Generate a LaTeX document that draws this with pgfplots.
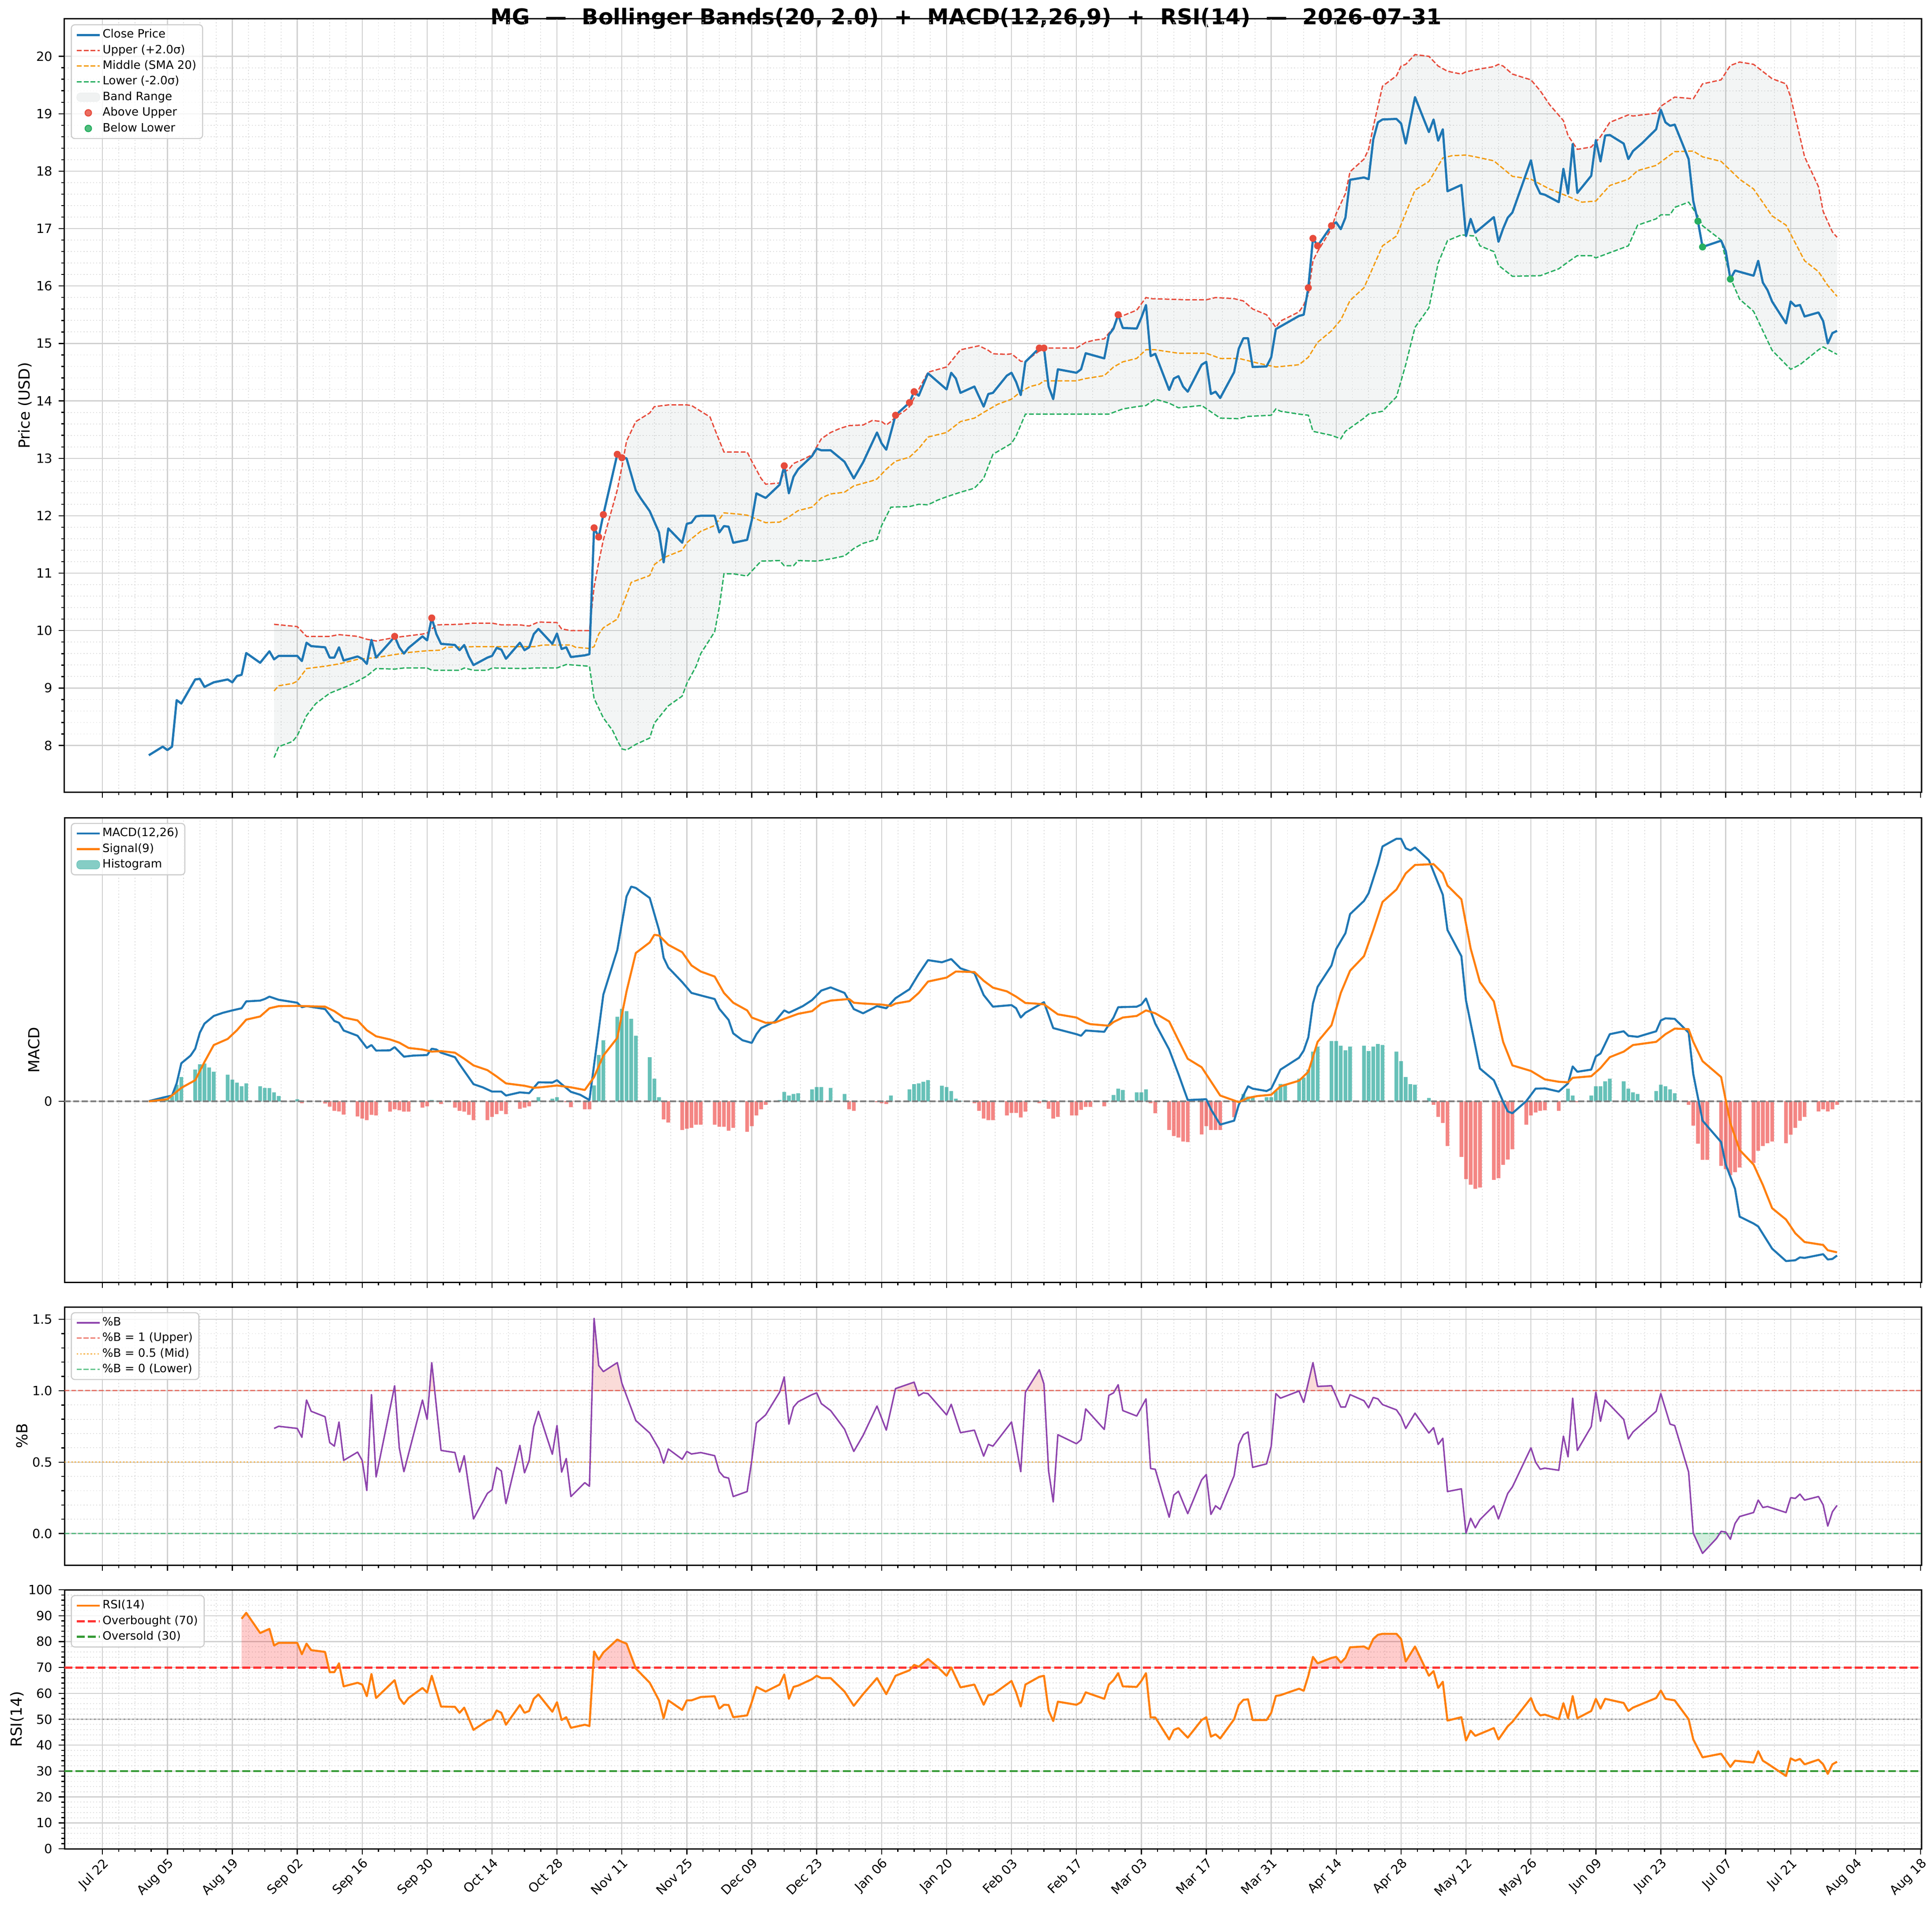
\documentclass[border=0pt]{standalone}
\usepackage{fontspec}
\setmainfont{DejaVu Sans}
\usepackage{pgfplots}
\usepackage{pgfplotstable}
\pgfplotsset{compat=1.18}
\pgfplotsset{
  legend image code/.code={\draw[mark repeat=2,mark phase=2,#1] plot coordinates {(0pt,0pt) (6.5pt,0pt) (13pt,0pt)};},
  area legend/.style={legend image code/.code={\draw[##1] (0pt,-2.4pt) rectangle (13pt,2.4pt);}},
}

\definecolor{cclose}{RGB}{31,119,180}
\definecolor{cup}{RGB}{231,76,60}
\definecolor{cmid}{RGB}{243,156,18}
\definecolor{clo}{RGB}{39,174,96}
\definecolor{cband}{RGB}{149,165,166}
\definecolor{cbandlt}{RGB}{236,239,239}
\definecolor{cmacd}{RGB}{31,119,180}
\definecolor{csig}{RGB}{255,127,14}
\definecolor{cpos}{RGB}{38,166,154}
\definecolor{cposlt}{RGB}{103,193,184}
\definecolor{cneg}{RGB}{239,83,80}
\definecolor{cpb}{RGB}{142,68,173}
\definecolor{crsi}{RGB}{255,127,14}
\definecolor{gridmaj}{RGB}{208,208,208}
\definecolor{gridmin}{RGB}{222,222,222}
\definecolor{legframe}{RGB}{204,204,204}

% ---------------- data ----------------
\pgfplotstableread[row sep=\\]{x y\\10 7.83\\13 7.98\\14 7.92\\15 7.98\\16 8.79\\17 8.73\\20 9.15\\21 9.16\\22 9.02\\24 9.10\\27 9.15\\28 9.10\\29 9.21\\30 9.23\\31 9.61\\34 9.44\\36 9.64\\37 9.50\\38 9.56\\41 9.56\\42 9.56\\43 9.47\\44 9.79\\45 9.73\\48 9.71\\49 9.53\\50 9.53\\51 9.71\\52 9.48\\55 9.55\\56 9.51\\57 9.42\\58 9.84\\59 9.53\\62 9.80\\63 9.90\\64 9.71\\65 9.60\\66 9.70\\69 9.90\\70 9.83\\71 10.22\\72 9.94\\73 9.77\\76 9.75\\77 9.66\\78 9.75\\79 9.55\\80 9.40\\83 9.53\\84 9.56\\85 9.70\\86 9.67\\87 9.51\\90 9.79\\91 9.66\\92 9.71\\93 9.94\\94 10.03\\97 9.77\\98 9.95\\99 9.68\\100 9.71\\101 9.54\\104 9.57\\105 9.59\\106 11.79\\107 11.63\\108 12.02\\111 13.07\\112 13.01\\113 13.00\\115 12.44\\116 12.31\\118 12.08\\120 11.71\\121 11.19\\122 11.78\\125 11.53\\126 11.86\\127 11.88\\128 11.99\\129 12.00\\132 12.00\\133 11.71\\134 11.82\\135 11.81\\136 11.53\\139 11.58\\140 11.92\\141 12.39\\143 12.31\\146 12.54\\147 12.87\\148 12.39\\149 12.68\\150 12.81\\153 13.04\\154 13.17\\155 13.14\\157 13.14\\160 12.94\\162 12.65\\164 12.93\\167 13.45\\168 13.26\\169 13.15\\171 13.75\\174 13.97\\175 14.16\\176 14.09\\178 14.48\\182 14.20\\183 14.49\\184 14.39\\185 14.14\\188 14.25\\190 13.90\\191 14.12\\192 14.14\\195 14.44\\196 14.49\\197 14.33\\198 14.10\\199 14.68\\202 14.92\\203 14.92\\204 14.25\\205 14.03\\206 14.55\\210 14.49\\211 14.55\\212 14.83\\216 14.74\\217 15.15\\218 15.26\\219 15.50\\220 15.27\\223 15.26\\224 15.45\\225 15.67\\226 14.78\\227 14.82\\230 14.19\\231 14.39\\232 14.43\\233 14.25\\234 14.16\\237 14.63\\238 14.68\\239 14.12\\240 14.16\\241 14.05\\244 14.50\\245 14.91\\246 15.09\\247 15.09\\248 14.59\\251 14.60\\252 14.76\\253 15.25\\258 15.48\\259 15.50\\260 15.97\\261 16.83\\262 16.70\\265 17.05\\266 17.11\\267 16.99\\268 17.19\\269 17.85\\272 17.89\\273 17.86\\274 18.55\\275 18.85\\276 18.90\\279 18.91\\280 18.83\\281 18.48\\283 19.29\\286 18.68\\287 18.90\\288 18.53\\289 18.73\\290 17.65\\293 17.76\\294 16.87\\295 17.17\\296 16.93\\300 17.20\\301 16.77\\302 17.00\\303 17.19\\304 17.28\\308 18.19\\309 17.78\\310 17.61\\311 17.59\\314 17.46\\315 18.04\\316 17.61\\317 18.47\\318 17.62\\321 17.92\\322 18.54\\323 18.17\\324 18.62\\325 18.63\\328 18.48\\329 18.21\\330 18.35\\332 18.49\\335 18.73\\336 19.07\\337 18.85\\338 18.79\\339 18.81\\342 18.21\\343 17.48\\344 17.13\\345 16.68\\349 16.79\\350 16.61\\351 16.12\\352 16.27\\356 16.18\\357 16.44\\358 16.06\\359 15.93\\360 15.73\\363 15.35\\364 15.73\\365 15.65\\366 15.67\\367 15.47\\370 15.54\\371 15.39\\372 15.00\\373 15.18\\374 15.22\\}\tclose

\pgfplotstableread[row sep=\\]{x y\\37 10.11\\42 10.07\\44 9.90\\49 9.90\\51 9.93\\55 9.90\\57 9.85\\59 9.82\\63 9.88\\65 9.90\\69 9.94\\70 9.96\\72 10.10\\77 10.11\\80 10.13\\84 10.13\\86 10.10\\90 10.10\\92 10.08\\94 10.15\\98 10.14\\99 10.03\\101 10.00\\105 10.00\\106 10.76\\107 11.19\\108 11.58\\111 12.45\\112 12.85\\113 13.30\\115 13.64\\118 13.79\\119 13.90\\122 13.93\\126 13.93\\127 13.92\\129 13.82\\131 13.72\\132 13.51\\134 13.11\\139 13.11\\140 12.95\\142 12.65\\143 12.55\\146 12.57\\147 12.76\\148 12.81\\149 12.91\\151 12.98\\153 13.06\\155 13.34\\157 13.45\\159 13.52\\161 13.57\\164 13.58\\166 13.66\\168 13.64\\169 13.58\\170 13.64\\171 13.72\\173 13.83\\174 13.90\\176 14.20\\178 14.50\\182 14.59\\185 14.89\\189 14.96\\191 14.88\\192 14.82\\195 14.81\\196 14.82\\198 14.69\\199 14.69\\202 14.87\\204 14.92\\210 14.92\\212 15.02\\214 15.06\\216 15.08\\218 15.28\\219 15.45\\223 15.58\\225 15.80\\226 15.78\\234 15.76\\238 15.76\\240 15.80\\244 15.78\\246 15.74\\248 15.60\\251 15.50\\253 15.28\\254 15.39\\258 15.55\\259 15.67\\260 15.85\\261 16.44\\262 16.60\\265 17.00\\266 17.26\\268 17.61\\269 17.99\\272 18.21\\273 18.38\\274 18.77\\276 19.48\\279 19.66\\280 19.83\\281 19.86\\283 20.03\\286 20.00\\288 19.83\\290 19.74\\293 19.69\\294 19.73\\297 19.78\\300 19.82\\301 19.86\\302 19.83\\304 19.69\\308 19.59\\310 19.40\\312 19.16\\315 18.88\\316 18.62\\318 18.38\\321 18.42\\323 18.60\\325 18.85\\329 18.98\\330 18.96\\335 19.01\\336 19.13\\339 19.29\\343 19.26\\345 19.52\\349 19.59\\351 19.84\\353 19.90\\356 19.86\\360 19.61\\363 19.52\\364 19.29\\367 18.25\\370 17.73\\371 17.30\\373 16.94\\374 16.85\\}\tupper

\pgfplotstableread[row sep=\\]{x y\\37 8.95\\38 9.04\\41 9.08\\42 9.12\\44 9.34\\48 9.38\\51 9.42\\55 9.50\\59 9.53\\62 9.57\\66 9.62\\70 9.65\\73 9.66\\74 9.71\\80 9.72\\87 9.72\\93 9.72\\95 9.75\\101 9.75\\102 9.71\\105 9.69\\106 9.72\\107 9.94\\108 10.05\\111 10.20\\112 10.41\\114 10.84\\118 10.96\\119 11.15\\121 11.27\\125 11.40\\126 11.53\\127 11.60\\129 11.73\\132 11.83\\134 12.05\\137 12.03\\139 12.01\\142 11.91\\143 11.88\\146 11.89\\148 11.98\\150 12.09\\153 12.15\\155 12.31\\157 12.38\\160 12.41\\162 12.52\\166 12.61\\167 12.64\\169 12.81\\171 12.95\\174 13.02\\176 13.17\\178 13.37\\182 13.45\\185 13.64\\188 13.70\\190 13.80\\193 13.94\\196 14.03\\198 14.16\\200 14.25\\202 14.29\\203 14.35\\210 14.35\\212 14.39\\216 14.44\\218 14.59\\220 14.68\\223 14.74\\225 14.89\\227 14.89\\232 14.83\\238 14.83\\241 14.74\\245 14.74\\249 14.66\\253 14.59\\258 14.63\\260 14.76\\262 15.02\\265 15.22\\267 15.41\\269 15.75\\272 15.97\\276 16.70\\279 16.87\\283 17.67\\286 17.82\\289 18.23\\291 18.27\\294 18.28\\296 18.25\\300 18.18\\304 17.91\\308 17.86\\312 17.69\\316 17.56\\319 17.46\\322 17.48\\325 17.75\\329 17.86\\331 18.01\\335 18.10\\339 18.34\\343 18.35\\345 18.25\\349 18.17\\353 17.86\\356 17.69\\360 17.22\\363 17.06\\367 16.44\\370 16.25\\372 16.01\\374 15.82\\}\tmid

\pgfplotstableread[row sep=\\]{x y\\37 7.79\\38 7.98\\41 8.07\\42 8.17\\44 8.52\\46 8.73\\49 8.91\\53 9.04\\55 9.12\\57 9.21\\59 9.34\\63 9.33\\65 9.35\\70 9.35\\71 9.31\\77 9.31\\78 9.35\\80 9.31\\83 9.31\\84 9.35\\91 9.34\\93 9.35\\98 9.35\\100 9.41\\105 9.38\\106 8.82\\108 8.48\\110 8.26\\111 8.09\\112 7.94\\113 7.92\\115 8.02\\118 8.13\\119 8.39\\122 8.69\\125 8.86\\126 9.08\\128 9.38\\129 9.60\\132 9.98\\133 10.41\\134 10.99\\136 10.99\\139 10.95\\142 11.21\\146 11.22\\147 11.13\\149 11.13\\150 11.22\\154 11.21\\157 11.25\\160 11.30\\162 11.43\\164 11.52\\167 11.59\\168 11.83\\170 12.15\\174 12.16\\176 12.20\\178 12.19\\180 12.27\\182 12.33\\185 12.41\\188 12.48\\190 12.65\\192 13.07\\196 13.26\\197 13.39\\199 13.77\\217 13.77\\220 13.86\\223 13.90\\225 13.92\\227 14.03\\230 13.96\\232 13.88\\237 13.92\\241 13.70\\245 13.69\\247 13.73\\252 13.75\\253 13.86\\254 13.82\\258 13.77\\260 13.75\\261 13.47\\265 13.40\\267 13.34\\268 13.47\\272 13.70\\273 13.77\\276 13.82\\279 14.07\\281 14.63\\283 15.28\\286 15.62\\288 16.40\\290 16.79\\293 16.89\\296 16.87\\297 16.70\\300 16.60\\301 16.36\\304 16.17\\310 16.18\\314 16.30\\316 16.42\\318 16.53\\321 16.53\\322 16.49\\324 16.55\\329 16.70\\331 17.06\\335 17.17\\336 17.24\\338 17.24\\339 17.37\\342 17.46\\344 17.22\\345 17.05\\349 16.80\\351 16.14\\353 15.77\\356 15.56\\360 14.88\\364 14.55\\366 14.63\\370 14.89\\371 14.94\\374 14.81\\}\tlow

% band polygon: upper band forward, lower band backward
\pgfplotstableread[row sep=\\]{x y\\37 10.11\\42 10.07\\44 9.90\\49 9.90\\51 9.93\\55 9.90\\57 9.85\\59 9.82\\63 9.88\\65 9.90\\69 9.94\\70 9.96\\72 10.10\\77 10.11\\80 10.13\\84 10.13\\86 10.10\\90 10.10\\92 10.08\\94 10.15\\98 10.14\\99 10.03\\101 10.00\\105 10.00\\106 10.76\\107 11.19\\108 11.58\\111 12.45\\112 12.85\\113 13.30\\115 13.64\\118 13.79\\119 13.90\\122 13.93\\126 13.93\\127 13.92\\129 13.82\\131 13.72\\132 13.51\\134 13.11\\139 13.11\\140 12.95\\142 12.65\\143 12.55\\146 12.57\\147 12.76\\148 12.81\\149 12.91\\151 12.98\\153 13.06\\155 13.34\\157 13.45\\159 13.52\\161 13.57\\164 13.58\\166 13.66\\168 13.64\\169 13.58\\170 13.64\\171 13.72\\173 13.83\\174 13.90\\176 14.20\\178 14.50\\182 14.59\\185 14.89\\189 14.96\\191 14.88\\192 14.82\\195 14.81\\196 14.82\\198 14.69\\199 14.69\\202 14.87\\204 14.92\\210 14.92\\212 15.02\\214 15.06\\216 15.08\\218 15.28\\219 15.45\\223 15.58\\225 15.80\\226 15.78\\234 15.76\\238 15.76\\240 15.80\\244 15.78\\246 15.74\\248 15.60\\251 15.50\\253 15.28\\254 15.39\\258 15.55\\259 15.67\\260 15.85\\261 16.44\\262 16.60\\265 17.00\\266 17.26\\268 17.61\\269 17.99\\272 18.21\\273 18.38\\274 18.77\\276 19.48\\279 19.66\\280 19.83\\281 19.86\\283 20.03\\286 20.00\\288 19.83\\290 19.74\\293 19.69\\294 19.73\\297 19.78\\300 19.82\\301 19.86\\302 19.83\\304 19.69\\308 19.59\\310 19.40\\312 19.16\\315 18.88\\316 18.62\\318 18.38\\321 18.42\\323 18.60\\325 18.85\\329 18.98\\330 18.96\\335 19.01\\336 19.13\\339 19.29\\343 19.26\\345 19.52\\349 19.59\\351 19.84\\353 19.90\\356 19.86\\360 19.61\\363 19.52\\364 19.29\\367 18.25\\370 17.73\\371 17.30\\373 16.94\\374 16.85\\374 14.81\\371 14.94\\370 14.89\\366 14.63\\364 14.55\\360 14.88\\356 15.56\\353 15.77\\351 16.14\\349 16.80\\345 17.05\\344 17.22\\342 17.46\\339 17.37\\338 17.24\\336 17.24\\335 17.17\\331 17.06\\329 16.70\\324 16.55\\322 16.49\\321 16.53\\318 16.53\\316 16.42\\314 16.30\\310 16.18\\304 16.17\\301 16.36\\300 16.60\\297 16.70\\296 16.87\\293 16.89\\290 16.79\\288 16.40\\286 15.62\\283 15.28\\281 14.63\\279 14.07\\276 13.82\\273 13.77\\272 13.70\\268 13.47\\267 13.34\\265 13.40\\261 13.47\\260 13.75\\258 13.77\\254 13.82\\253 13.86\\252 13.75\\247 13.73\\245 13.69\\241 13.70\\237 13.92\\232 13.88\\230 13.96\\227 14.03\\225 13.92\\223 13.90\\220 13.86\\217 13.77\\199 13.77\\197 13.39\\196 13.26\\192 13.07\\190 12.65\\188 12.48\\185 12.41\\182 12.33\\180 12.27\\178 12.19\\176 12.20\\174 12.16\\170 12.15\\168 11.83\\167 11.59\\164 11.52\\162 11.43\\160 11.30\\157 11.25\\154 11.21\\150 11.22\\149 11.13\\147 11.13\\146 11.22\\142 11.21\\139 10.95\\136 10.99\\134 10.99\\133 10.41\\132 9.98\\129 9.60\\128 9.38\\126 9.08\\125 8.86\\122 8.69\\119 8.39\\118 8.13\\115 8.02\\113 7.92\\112 7.94\\111 8.09\\110 8.26\\108 8.48\\106 8.82\\105 9.38\\100 9.41\\98 9.35\\93 9.35\\91 9.34\\84 9.35\\83 9.31\\80 9.31\\78 9.35\\77 9.31\\71 9.31\\70 9.35\\65 9.35\\63 9.33\\59 9.34\\57 9.21\\55 9.12\\53 9.04\\49 8.91\\46 8.73\\44 8.52\\42 8.17\\41 8.07\\38 7.98\\37 7.79\\}\tband

\pgfplotstableread[row sep=\\]{x y\\10 0.001\\13 0.014\\15 0.022\\16 0.068\\17 0.144\\19 0.173\\20 0.199\\21 0.260\\22 0.294\\24 0.323\\26 0.335\\28 0.344\\30 0.352\\31 0.378\\34 0.381\\35 0.387\\36 0.396\\38 0.384\\42 0.373\\43 0.356\\44 0.360\\48 0.349\\50 0.304\\51 0.297\\52 0.268\\55 0.248\\57 0.202\\58 0.213\\59 0.192\\62 0.193\\63 0.205\\65 0.169\\67 0.173\\70 0.175\\71 0.199\\72 0.196\\73 0.184\\76 0.167\\77 0.140\\78 0.115\\80 0.065\\82 0.053\\84 0.037\\86 0.037\\87 0.022\\90 0.034\\92 0.031\\94 0.072\\97 0.071\\98 0.080\\99 0.065\\101 0.036\\103 0.025\\105 0.005\\108 0.404\\111 0.572\\113 0.775\\114 0.812\\115 0.807\\118 0.769\\120 0.648\\121 0.543\\122 0.506\\125 0.451\\127 0.410\\130 0.396\\132 0.387\\133 0.350\\135 0.308\\136 0.257\\138 0.231\\140 0.221\\141 0.254\\142 0.277\\145 0.302\\147 0.344\\148 0.335\\151 0.360\\153 0.383\\155 0.419\\157 0.431\\160 0.410\\162 0.349\\164 0.333\\167 0.360\\169 0.352\\171 0.390\\174 0.424\\176 0.482\\178 0.534\\181 0.526\\183 0.538\\185 0.503\\188 0.485\\190 0.402\\192 0.358\\196 0.364\\197 0.352\\198 0.317\\199 0.335\\203 0.375\\205 0.277\\210 0.254\\211 0.248\\212 0.268\\216 0.263\\218 0.317\\219 0.356\\223 0.358\\224 0.366\\225 0.389\\227 0.294\\230 0.196\\232 0.103\\234 0.005\\238 0.008\\239 -0.030\\241 -0.088\\244 -0.073\\245 -0.013\\247 0.057\\248 0.048\\251 0.039\\252 0.048\\254 0.120\\258 0.165\\259 0.192\\260 0.242\\261 0.370\\262 0.433\\265 0.514\\266 0.576\\268 0.636\\269 0.708\\272 0.758\\273 0.787\\275 0.897\\276 0.964\\279 0.993\\280 0.993\\281 0.957\\282 0.949\\283 0.960\\286 0.912\\287 0.868\\289 0.781\\290 0.648\\293 0.549\\294 0.381\\297 0.124\\300 0.080\\302 -0.001\\303 -0.038\\304 -0.045\\307 0.001\\309 0.048\\311 0.049\\314 0.037\\316 0.068\\317 0.132\\318 0.112\\321 0.120\\322 0.170\\323 0.181\\325 0.254\\328 0.265\\329 0.248\\331 0.244\\335 0.265\\336 0.306\\337 0.314\\339 0.312\\342 0.260\\343 0.103\\345 -0.073\\349 -0.154\\350 -0.239\\352 -0.331\\353 -0.436\\356 -0.462\\357 -0.473\\360 -0.557\\363 -0.604\\365 -0.601\\366 -0.590\\367 -0.592\\371 -0.578\\372 -0.598\\373 -0.596\\374 -0.583\\}\tmacd

\pgfplotstableread[row sep=\\]{x y\\10 0\\14 0.008\\17 0.051\\20 0.080\\22 0.149\\24 0.213\\27 0.236\\29 0.269\\31 0.309\\34 0.321\\36 0.352\\38 0.360\\42 0.361\\48 0.358\\50 0.341\\52 0.317\\55 0.306\\57 0.269\\59 0.246\\62 0.234\\64 0.222\\66 0.202\\69 0.196\\71 0.188\\73 0.190\\76 0.184\\78 0.161\\80 0.136\\83 0.118\\85 0.094\\87 0.068\\91 0.059\\93 0.051\\95 0.054\\98 0.060\\101 0.053\\104 0.043\\106 0.092\\108 0.173\\111 0.240\\113 0.416\\115 0.561\\118 0.601\\119 0.630\\120 0.627\\122 0.592\\125 0.564\\127 0.514\\129 0.491\\132 0.472\\134 0.410\\136 0.373\\139 0.344\\140 0.317\\143 0.297\\145 0.298\\147 0.312\\150 0.331\\153 0.341\\155 0.370\\157 0.381\\161 0.387\\162 0.373\\164 0.370\\168 0.366\\170 0.361\\171 0.370\\174 0.379\\176 0.410\\178 0.453\\182 0.468\\184 0.491\\188 0.489\\190 0.456\\192 0.430\\195 0.416\\197 0.396\\199 0.372\\201 0.370\\203 0.367\\206 0.329\\210 0.317\\212 0.298\\213 0.292\\217 0.286\\218 0.300\\220 0.317\\223 0.323\\225 0.344\\227 0.333\\230 0.302\\232 0.231\\234 0.161\\237 0.129\\241 0.022\\245 -0.003\\247 0.013\\249 0.020\\252 0.025\\254 0.057\\258 0.078\\260 0.112\\262 0.225\\265 0.288\\267 0.410\\269 0.494\\272 0.549\\274 0.648\\276 0.754\\279 0.801\\281 0.862\\283 0.894\\287 0.897\\289 0.862\\290 0.816\\293 0.764\\295 0.578\\297 0.451\\300 0.378\\302 0.225\\304 0.136\\308 0.115\\311 0.083\\314 0.074\\316 0.072\\317 0.089\\321 0.095\\323 0.126\\325 0.167\\328 0.188\\330 0.213\\335 0.225\\337 0.254\\339 0.275\\342 0.273\\343 0.225\\345 0.152\\349 0.092\\351 -0.082\\353 -0.184\\356 -0.239\\358 -0.316\\360 -0.404\\363 -0.447\\365 -0.499\\367 -0.532\\371 -0.543\\372 -0.563\\374 -0.571\\}\tsig

\pgfplotstableread[row sep=\\]{x y\\13 0.003\\14 0.008\\15 0.020\\16 0.063\\17 0.092\\20 0.120\\21 0.140\\22 0.143\\23 0.128\\24 0.112\\27 0.101\\28 0.082\\29 0.071\\30 0.057\\31 0.068\\34 0.057\\35 0.051\\36 0.050\\37 0.034\\38 0.020\\41 0.003\\42 0.008\\71 0.005\\72 0.001\\94 0.016\\97 0.010\\98 0.016\\106 0.060\\107 0.175\\108 0.231\\111 0.320\\112 0.350\\113 0.341\\114 0.312\\115 0.248\\118 0.167\\119 0.086\\120 0.016\\146 0.005\\147 0.036\\148 0.022\\149 0.028\\150 0.031\\153 0.045\\154 0.054\\155 0.054\\157 0.051\\160 0.028\\170 0.022\\174 0.045\\175 0.065\\176 0.068\\177 0.074\\178 0.080\\181 0.059\\182 0.054\\183 0.039\\184 0.010\\185 0.002\\203 0.005\\217 0.002\\218 0.024\\219 0.048\\220 0.043\\223 0.034\\224 0.034\\225 0.045\\245 0.002\\246 0.028\\247 0.018\\248 0.018\\251 0.016\\252 0.016\\253 0.040\\254 0.066\\255 0.066\\258 0.086\\259 0.090\\260 0.120\\261 0.188\\262 0.207\\265 0.228\\266 0.228\\267 0.210\\268 0.193\\269 0.207\\272 0.210\\273 0.190\\274 0.207\\275 0.217\\276 0.213\\279 0.188\\280 0.152\\281 0.092\\282 0.065\\283 0.063\\286 0.013\\316 0.048\\317 0.022\\321 0.022\\322 0.057\\323 0.057\\324 0.076\\325 0.086\\328 0.076\\329 0.048\\330 0.034\\331 0.028\\332 0.002\\335 0.039\\336 0.063\\337 0.057\\338 0.045\\339 0.031\\}\thpos

\pgfplotstableread[row sep=\\]{x y\\43 -0.007\\48 -0.008\\49 -0.020\\50 -0.036\\51 -0.038\\52 -0.050\\55 -0.057\\56 -0.065\\57 -0.071\\58 -0.051\\59 -0.053\\62 -0.039\\63 -0.030\\64 -0.034\\65 -0.039\\66 -0.039\\69 -0.024\\70 -0.019\\73 -0.010\\76 -0.024\\77 -0.036\\78 -0.039\\79 -0.051\\80 -0.071\\83 -0.071\\84 -0.059\\85 -0.048\\86 -0.036\\87 -0.048\\90 -0.028\\91 -0.024\\92 -0.019\\93 -0.002\\99 -0.003\\100 -0.003\\101 -0.022\\104 -0.030\\105 -0.030\\121 -0.068\\122 -0.080\\125 -0.108\\126 -0.103\\127 -0.100\\128 -0.088\\129 -0.088\\132 -0.088\\133 -0.096\\134 -0.096\\135 -0.111\\136 -0.100\\139 -0.115\\140 -0.094\\141 -0.053\\142 -0.030\\143 -0.013\\156 -0.002\\161 -0.030\\162 -0.036\\167 -0.003\\168 -0.007\\169 -0.010\\188 -0.007\\189 -0.036\\190 -0.065\\191 -0.071\\192 -0.071\\195 -0.053\\196 -0.044\\197 -0.044\\198 -0.061\\199 -0.039\\202 -0.007\\204 -0.028\\205 -0.065\\206 -0.059\\209 -0.053\\210 -0.053\\211 -0.032\\212 -0.021\\213 -0.021\\216 -0.019\\226 -0.007\\227 -0.045\\230 -0.108\\231 -0.131\\232 -0.137\\233 -0.152\\234 -0.154\\237 -0.125\\238 -0.094\\239 -0.108\\240 -0.108\\241 -0.108\\244 -0.060\\287 -0.013\\288 -0.059\\289 -0.082\\290 -0.169\\293 -0.210\\294 -0.294\\295 -0.315\\296 -0.331\\297 -0.326\\300 -0.297\\301 -0.291\\302 -0.240\\303 -0.220\\304 -0.181\\307 -0.088\\308 -0.053\\309 -0.042\\310 -0.036\\311 -0.034\\314 -0.036\\315 -0.003\\318 -0.003\\342 -0.013\\343 -0.092\\344 -0.160\\345 -0.221\\346 -0.221\\349 -0.244\\350 -0.256\\351 -0.279\\352 -0.268\\353 -0.250\\356 -0.233\\357 -0.187\\358 -0.169\\359 -0.158\\360 -0.152\\363 -0.158\\364 -0.126\\365 -0.100\\366 -0.073\\367 -0.059\\370 -0.038\\371 -0.030\\372 -0.038\\373 -0.030\\374 -0.013\\}\thneg

\pgfplotstableread[row sep=\\]{x y\\37 0.736\\38 0.751\\42 0.736\\43 0.674\\44 0.935\\45 0.856\\48 0.818\\49 0.637\\50 0.612\\51 0.781\\52 0.512\\55 0.570\\56 0.512\\57 0.301\\58 0.973\\59 0.396\\63 1.035\\64 0.600\\65 0.433\\69 0.935\\70 0.799\\71 1.197\\73 0.582\\76 0.567\\77 0.430\\78 0.545\\80 0.102\\83 0.281\\84 0.306\\85 0.463\\86 0.438\\87 0.209\\90 0.617\\91 0.425\\92 0.512\\93 0.749\\94 0.856\\97 0.555\\98 0.756\\99 0.430\\100 0.525\\101 0.259\\104 0.356\\105 0.331\\106 1.507\\107 1.177\\108 1.134\\111 1.197\\112 1.052\\115 0.791\\118 0.704\\120 0.592\\121 0.493\\122 0.592\\125 0.520\\126 0.575\\127 0.557\\129 0.567\\132 0.545\\133 0.433\\134 0.396\\135 0.388\\136 0.259\\139 0.294\\140 0.512\\141 0.774\\143 0.831\\146 0.990\\147 1.097\\148 0.766\\149 0.886\\150 0.923\\153 0.973\\154 0.985\\155 0.910\\157 0.861\\160 0.731\\162 0.575\\164 0.687\\167 0.893\\169 0.724\\171 1.015\\175 1.060\\176 0.965\\177 0.985\\178 0.980\\182 0.831\\183 0.905\\185 0.706\\188 0.724\\190 0.542\\191 0.624\\192 0.612\\196 0.781\\197 0.612\\198 0.433\\199 0.990\\202 1.147\\203 1.047\\204 0.438\\205 0.221\\206 0.692\\210 0.629\\211 0.657\\212 0.873\\216 0.729\\217 0.968\\218 0.985\\219 1.042\\220 0.861\\223 0.823\\225 0.943\\226 0.455\\227 0.450\\230 0.114\\231 0.269\\232 0.296\\234 0.139\\237 0.376\\238 0.413\\239 0.134\\240 0.194\\241 0.169\\244 0.405\\245 0.624\\246 0.692\\247 0.711\\248 0.463\\251 0.488\\252 0.612\\253 0.980\\254 0.948\\258 0.998\\259 0.918\\261 1.197\\262 1.030\\265 1.035\\267 0.886\\268 0.886\\269 0.973\\272 0.930\\273 0.881\\274 0.953\\275 0.943\\276 0.903\\279 0.866\\280 0.818\\281 0.736\\283 0.843\\286 0.704\\287 0.741\\288 0.624\\289 0.667\\290 0.294\\293 0.313\\294 0.002\\295 0.107\\296 0.040\\297 0.097\\300 0.194\\301 0.102\\303 0.281\\304 0.326\\308 0.600\\309 0.500\\310 0.450\\311 0.458\\314 0.443\\315 0.682\\316 0.537\\317 0.948\\318 0.582\\321 0.749\\322 0.990\\323 0.786\\324 0.935\\328 0.799\\329 0.662\\330 0.711\\335 0.856\\336 0.980\\338 0.766\\339 0.756\\342 0.430\\343 0.002\\345 -0.139\\348 -0.035\\349 0.015\\350 0.010\\351 -0.040\\352 0.070\\353 0.119\\356 0.147\\357 0.234\\358 0.182\\359 0.189\\363 0.147\\364 0.251\\365 0.246\\366 0.276\\367 0.234\\370 0.259\\371 0.201\\372 0.052\\373 0.152\\374 0.197\\}\tpctb

\pgfplotstableread[row sep=\\]{x y\\30 88.8\\31 91.1\\34 83.3\\36 84.9\\37 78.5\\38 79.5\\42 79.5\\43 75.1\\44 79.2\\45 76.7\\48 76.0\\49 68.2\\50 68.2\\51 71.6\\52 62.7\\55 64.1\\56 63.4\\57 58.9\\58 67.5\\59 58.2\\63 65.1\\64 58.2\\65 55.9\\66 58.2\\69 62.1\\70 60.3\\71 66.8\\73 54.9\\76 54.8\\77 52.5\\78 54.5\\80 45.9\\83 49.5\\84 50.0\\85 53.4\\86 52.5\\87 47.9\\90 55.5\\91 52.5\\92 53.2\\93 57.9\\94 59.6\\97 52.9\\98 56.6\\99 49.7\\100 50.8\\101 46.7\\104 47.9\\105 47.4\\106 76.2\\107 73.0\\108 75.8\\111 80.8\\112 79.9\\113 79.2\\115 69.6\\118 64.1\\120 57.3\\121 50.4\\122 57.3\\125 53.6\\126 57.3\\127 57.3\\129 58.6\\132 58.9\\133 54.1\\134 55.6\\135 55.5\\136 50.8\\139 51.5\\140 56.6\\141 62.5\\143 60.7\\146 63.4\\147 67.3\\148 57.9\\149 62.5\\150 63.0\\153 65.5\\154 66.8\\155 65.9\\157 65.9\\160 60.7\\162 55.2\\164 59.7\\167 65.9\\169 59.7\\171 66.8\\174 68.9\\175 71.0\\176 70.3\\178 73.3\\180 70.3\\182 66.8\\183 70.0\\185 62.3\\188 63.4\\190 55.6\\191 59.3\\192 59.6\\196 64.8\\197 60.4\\198 54.9\\199 63.4\\202 66.4\\203 66.8\\204 53.4\\205 49.3\\206 56.8\\210 55.6\\211 56.6\\212 60.4\\216 57.9\\217 63.4\\218 65.1\\219 67.8\\220 62.7\\223 62.5\\224 64.8\\225 67.8\\226 50.7\\227 50.7\\230 42.2\\231 45.9\\232 46.6\\234 42.9\\237 49.7\\238 50.8\\239 43.3\\240 44.2\\241 42.6\\244 50.0\\245 55.5\\246 57.5\\247 57.7\\248 49.7\\251 49.7\\252 52.5\\253 59.0\\254 59.3\\258 61.8\\259 61.0\\260 66.8\\261 74.1\\262 71.6\\265 73.7\\266 74.1\\267 71.9\\268 73.7\\269 77.8\\272 78.1\\273 77.1\\274 81.0\\275 82.6\\276 83.0\\279 83.0\\280 81.0\\281 72.3\\283 78.1\\286 66.8\\287 68.6\\288 62.1\\289 64.5\\290 49.5\\293 50.8\\294 41.8\\295 45.6\\296 43.6\\300 46.6\\301 42.2\\303 47.3\\304 49.0\\308 58.2\\309 53.6\\310 51.5\\311 51.8\\314 50.0\\315 56.2\\316 50.4\\317 59.0\\318 50.4\\321 53.2\\322 57.9\\323 54.1\\324 57.9\\328 56.3\\329 53.2\\330 54.5\\335 58.2\\336 61.1\\337 57.9\\339 57.3\\342 50.0\\343 42.2\\345 35.3\\349 36.7\\351 31.6\\352 34.0\\356 33.3\\357 37.7\\358 34.0\\359 32.9\\363 28.1\\364 34.9\\365 34.0\\366 34.7\\367 32.6\\370 34.4\\371 32.6\\372 28.9\\373 32.6\\374 33.6\\}\trsi

\pgfplotsset{
  base/.style={
    scale only axis, width=1052pt, anchor=north west,
    xmin=-8.2, xmax=392.2,
    xtick={0,14,...,392}, minor x tick num=3,
    xticklabels={},
    tick align=outside, tick pos=left,
    major tick length=3.2pt, minor tick length=1.85pt,
    every tick/.style={black, line width=0.6pt},
    xmajorgrids, xminorgrids,
    major grid style={draw=gridmaj, line width=0.6pt},
    minor grid style={draw=gridmin, line width=0.45pt, dash pattern=on 0.6pt off 1.2pt},
    axis line style={line width=0.75pt},
    tick label style={font=\fontsize{7.2}{8.4}\selectfont},
    label style={font=\fontsize{8.6}{10}\selectfont},
    ylabel shift=-4.3pt,
    /pgf/number format/assume math mode=true,
    legend cell align=left,
    legend style={font=\fontsize{6.5}{7.6}\selectfont, draw=legframe, line width=0.6pt,
      rounded corners=2pt, fill=white, fill opacity=0.8, text opacity=1,
      at={(0,1)}, anchor=north west, xshift=3.6pt, yshift=-3pt,
      inner xsep=2.5pt, inner ysep=1.5pt, row sep=0.4pt,
      nodes={inner sep=1pt}},
  },
}

\begin{document}
\begin{tikzpicture}
\path[use as bounding box] (0pt,0pt) rectangle (1094.5pt,-1080.5pt);
\node[font=\bfseries\fontsize{12.3}{14}\selectfont, anchor=center] at (547.25pt,-10.6pt)
  {MG\ \ —\ \ Bollinger Bands(20, 2.0)\ \ +\ \ MACD(12,26,9)\ \ +\ \ RSI(14)\ \ —\ \ 2026-07-31};

% ---------------- Price panel ----------------
\begin{axis}[base, at={(36.5pt,-10.75pt)}, height=438pt,
  ymin=7.19, ymax=20.65, ytick={8,9,...,20}, minor y tick num=4,
  ymajorgrids, yminorgrids, ylabel={Price (USD)}]
\addplot[fill=cband, fill opacity=0.11, draw=none, forget plot] table {\tband};
\addplot[draw=cup, line width=0.75pt, dash pattern=on 2.7pt off 1.2pt, forget plot] table {\tupper};
\addplot[draw=cmid, line width=0.75pt, dash pattern=on 2.7pt off 1.2pt, forget plot] table {\tmid};
\addplot[draw=clo, line width=0.75pt, dash pattern=on 2.7pt off 1.2pt, forget plot] table {\tlow};
\addplot[draw=cclose, line width=1.25pt, line join=round, forget plot] table {\tclose};
\addplot[only marks, mark=*, mark size=1.8pt, color=cup, forget plot] coordinates {(63,9.90)(71,10.22)(106,11.79)(107,11.63)(108,12.02)(111,13.07)(112,13.01)(147,12.87)(171,13.75)(174,13.97)(175,14.16)(202,14.92)(203,14.92)(219,15.50)(260,15.97)(261,16.83)(262,16.70)(265,17.05)};
\addplot[only marks, mark=*, mark size=1.8pt, color=clo, forget plot] coordinates {(344,17.13)(345,16.68)(351,16.12)};
\addlegendimage{draw=cclose, line width=1.25pt}
\addlegendentry{Close Price}
\addlegendimage{draw=cup, line width=0.75pt, dash pattern=on 2.7pt off 1.2pt}
\addlegendentry{Upper (+2.0σ)}
\addlegendimage{draw=cmid, line width=0.75pt, dash pattern=on 2.7pt off 1.2pt}
\addlegendentry{Middle (SMA 20)}
\addlegendimage{draw=clo, line width=0.75pt, dash pattern=on 2.7pt off 1.2pt}
\addlegendentry{Lower (-2.0σ)}
\addlegendimage{area legend, fill=cbandlt, draw=cbandlt, line width=0.3pt}
\addlegendentry{Band Range}
\addlegendimage{only marks, mark=*, mark size=1.8pt, color=cup}
\addlegendentry{Above Upper}
\addlegendimage{only marks, mark=*, mark size=1.8pt, color=clo}
\addlegendentry{Below Lower}
\end{axis}

% ---------------- MACD panel ----------------
\begin{axis}[base, at={(36.5pt,-463.25pt)}, height=263.25pt,
  ymin=-0.684, ymax=1.073, ytick={0}, ymajorgrids, ylabel={MACD}]
\addplot[ybar, bar width=0.8, fill=cpos, fill opacity=0.7, draw=none, forget plot] table {\thpos};
\addplot[ybar, bar width=0.8, fill=cneg, fill opacity=0.7, draw=none, forget plot] table {\thneg};
\addplot[draw={rgb,255:red,128;green,128;blue,128}, line width=0.9pt, dash pattern=on 3.4pt off 1.5pt, forget plot] coordinates {(-8.2,0)(392.2,0)};
\addplot[draw=cmacd, line width=1.15pt, line join=round, forget plot] table {\tmacd};
\addplot[draw=csig, line width=1.15pt, line join=round, forget plot] table {\tsig};
\addlegendimage{draw=cmacd, line width=1.15pt}
\addlegendentry{MACD(12,26)}
\addlegendimage{draw=csig, line width=1.15pt}
\addlegendentry{Signal(9)}
\addlegendimage{area legend, fill=cposlt, draw=cposlt, line width=0.3pt}
\addlegendentry{Histogram}
\end{axis}

% ---------------- %B panel ----------------
\begin{axis}[base, at={(36.5pt,-740.5pt)}, height=146.25pt,
  ymin=-0.221, ymax=1.587, ytick={0,0.5,1.0,1.5}, minor y tick num=4,
  yticklabel style={/pgf/number format/.cd, fixed, fixed zerofill, precision=1},
  ymajorgrids, yminorgrids, ylabel={\%B}]
\begin{scope}
\clip (axis cs:-8.2,1) rectangle (axis cs:392.2,1.7);
\addplot[draw=none, fill=cup, fill opacity=0.2, forget plot] table {\tpctb} \closedcycle;
\end{scope}
\begin{scope}
\clip (axis cs:-8.2,-0.3) rectangle (axis cs:392.2,0);
\addplot[draw=none, fill=clo, fill opacity=0.2, forget plot] table {\tpctb} \closedcycle;
\end{scope}
\addplot[draw=cup, draw opacity=0.7, line width=0.75pt, dash pattern=on 2.7pt off 1.2pt, forget plot] coordinates {(-8.2,1)(392.2,1)};
\addplot[draw=cmid, draw opacity=0.7, line width=0.75pt, dash pattern=on 0.75pt off 1.2pt, forget plot] coordinates {(-8.2,0.5)(392.2,0.5)};
\addplot[draw=clo, draw opacity=0.7, line width=0.75pt, dash pattern=on 2.7pt off 1.2pt, forget plot] coordinates {(-8.2,0)(392.2,0)};
\addplot[draw=cpb, line width=0.85pt, line join=round, forget plot] table {\tpctb};
\addlegendimage{draw=cpb, line width=1.1pt}
\addlegendentry{\%B}
\addlegendimage{draw=cup, draw opacity=0.7, line width=0.75pt, dash pattern=on 2.7pt off 1.2pt}
\addlegendentry{\%B = 1 (Upper)}
\addlegendimage{draw=cmid, draw opacity=0.7, line width=0.75pt, dash pattern=on 0.75pt off 1.2pt}
\addlegendentry{\%B = 0.5 (Mid)}
\addlegendimage{draw=clo, draw opacity=0.7, line width=0.75pt, dash pattern=on 2.7pt off 1.2pt}
\addlegendentry{\%B = 0 (Lower)}
\end{axis}

% ---------------- RSI panel ----------------
\begin{axis}[base, at={(36.5pt,-900.75pt)}, height=146.75pt,
  ymin=0, ymax=100, ytick={0,10,...,100}, minor y tick num=4,
  ymajorgrids, yminorgrids, ylabel={RSI(14)},
  xticklabels={Jul 22,Aug 05,Aug 19,Sep 02,Sep 16,Sep 30,Oct 14,Oct 28,Nov 11,Nov 25,Dec 09,Dec 23,Jan 06,Jan 20,Feb 03,Feb 17,Mar 03,Mar 17,Mar 31,Apr 14,Apr 28,May 12,May 26,Jun 09,Jun 23,Jul 07,Jul 21,Aug 04,Aug 18},
  xticklabel style={rotate=45, anchor=north east, inner sep=1pt}]
\begin{scope}
\clip (axis cs:-8.2,70) rectangle (axis cs:392.2,100);
\addplot[draw=none, fill={rgb,255:red,255;green,0;blue,0}, fill opacity=0.2, forget plot] table {\trsi} \closedcycle;
\end{scope}
\begin{scope}
\clip (axis cs:-8.2,0) rectangle (axis cs:392.2,30);
\addplot[draw=none, fill={rgb,255:red,0;green,128;blue,0}, fill opacity=0.2, forget plot] table {\trsi} -- (axis cs:374,100) -- (axis cs:30,100) -- cycle;
\end{scope}
\addplot[draw={rgb,255:red,255;green,51;blue,51}, line width=1.2pt, dash pattern=on 4.4pt off 1.9pt, forget plot] coordinates {(-8.2,70)(392.2,70)};
\addplot[draw={rgb,255:red,51;green,153;blue,51}, line width=1.2pt, dash pattern=on 4.4pt off 1.9pt, forget plot] coordinates {(-8.2,30)(392.2,30)};
\addplot[draw={rgb,255:red,150;green,150;blue,150}, line width=0.9pt, dash pattern=on 0.9pt off 1.5pt, forget plot] coordinates {(-8.2,50)(392.2,50)};
\addplot[draw=crsi, line width=1.15pt, line join=round, forget plot] table {\trsi};
\addlegendimage{draw=crsi, line width=1.15pt}
\addlegendentry{RSI(14)}
\addlegendimage{draw={rgb,255:red,255;green,51;blue,51}, line width=1.2pt, dash pattern=on 4.4pt off 1.9pt}
\addlegendentry{Overbought (70)}
\addlegendimage{draw={rgb,255:red,51;green,153;blue,51}, line width=1.2pt, dash pattern=on 4.4pt off 1.9pt}
\addlegendentry{Oversold (30)}
\end{axis}
\end{tikzpicture}
\end{document}
